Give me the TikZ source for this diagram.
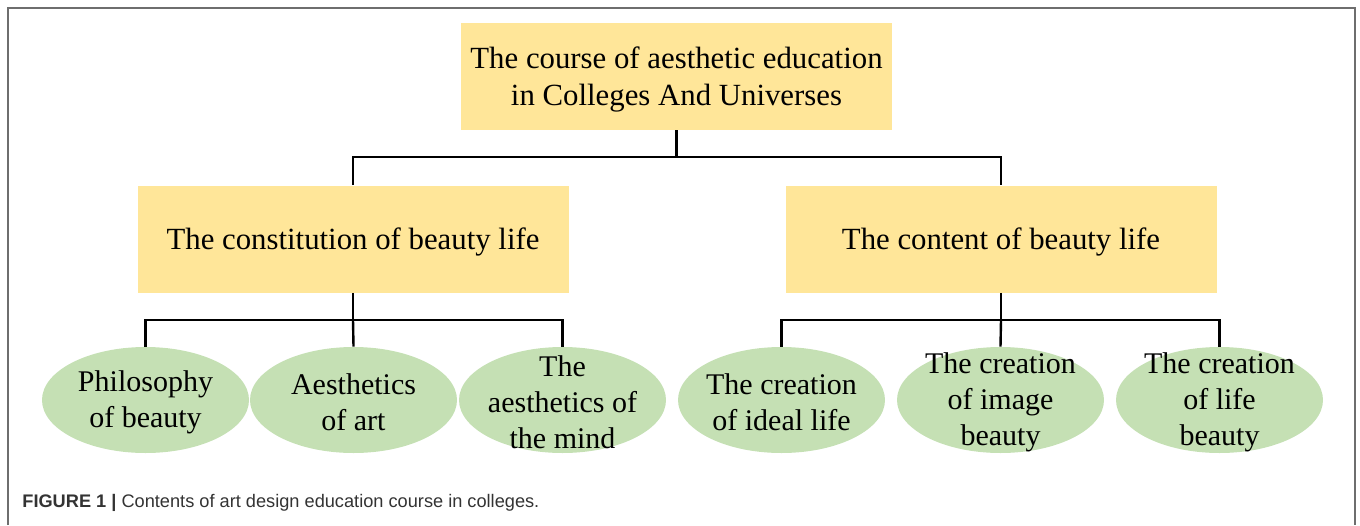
\documentclass[tikz,border=0pt]{standalone}
\usepackage{fontspec}
\setmainfont{Liberation Serif}
\newfontfamily\capfont{Liberation Sans}
\usetikzlibrary{shapes.geometric}
\definecolor{boxgold}{HTML}{FFE699}
\definecolor{leafgreen}{HTML}{C5E0B4}
\definecolor{framegray}{HTML}{6E6E6E}
\definecolor{captext}{HTML}{333333}
\tikzset{
  headbox/.style={fill=boxgold, draw=none, minimum width=215.5pt, minimum height=53.5pt,
    inner sep=0pt, label={[headtext]center:#1}},
  headtext/.style={align=center, font=\fontsize{15.4}{18.5}\selectfont, inner sep=0pt, yshift=-1.5pt},
  leaf/.style={ellipse, fill=leafgreen, draw=none, minimum width=103.5pt, minimum height=53pt,
    inner sep=0pt, label={[leaftext]center:#1}},
  leaftext/.style={align=center, font=\fontsize{15}{18}\selectfont, inner sep=0pt, yshift=-1.3pt},
  link/.style={line width=1.2pt, black},
}
\begin{document}
\begin{tikzpicture}[x=0.5pt, y=-0.5pt]
  \useasboundingbox (0,0) rectangle (1360,525);
  % open frame around the figure
  \draw[framegray, line width=1pt] (8,525) -- (8,7.5) -- (1355,7.5) -- (1355,525);

  % tree nodes
  \node[headbox={The course of aesthetic education\\in Colleges And Universes}] (top) at (676.5,76.5) {};
  \node[headbox={The constitution of beauty life}] (cons) at (353,239) {};
  \node[headbox={The content of beauty life}] (cont) at (1001,239) {};

  \node[leaf={Philosophy\\of beauty}] (phil) at (145.5,400) {};
  \node[leaf={Aesthetics\\of art}] (art) at (353.5,400) {};
  \node[leaf={The\\aesthetics of\\the mind}] (mind) at (562.5,400) {};
  \node[leaf={The creation\\of ideal life}] (ideal) at (781.5,400) {};
  \node[leaf={The creation\\of image\\beauty}] (image) at (1000.5,400) {};
  \node[leaf={The creation\\of life\\beauty}] (life) at (1219.5,400) {};

  % junction points of the connectors
  \coordinate (j0) at (676.5,157);
  \coordinate (j1) at (353,320);
  \coordinate (j2) at (1001,320);

  \draw[link] (top.south) -- (j0);
  \draw[link] (cons.north) |- (j0) -| (cont.north);
  \draw[link] (cons.south) -- (j1);
  \draw[link] (phil.north) |- (j1) -| (mind.north);
  \draw[link] (art.north) -- (j1);
  \draw[link] (cont.south) -- (j2);
  \draw[link] (ideal.north) |- (j2) -| (life.north);
  \draw[link] (image.north) -- (j2);

  % caption
  \node[anchor=west, inner sep=0pt, text=captext, font=\capfont\fontsize{9.1}{11}\selectfont] (cap) at (22,503)
    {\textbf{FIGURE 1 |} Contents of art design education course in colleges.};
\end{tikzpicture}
\end{document}
